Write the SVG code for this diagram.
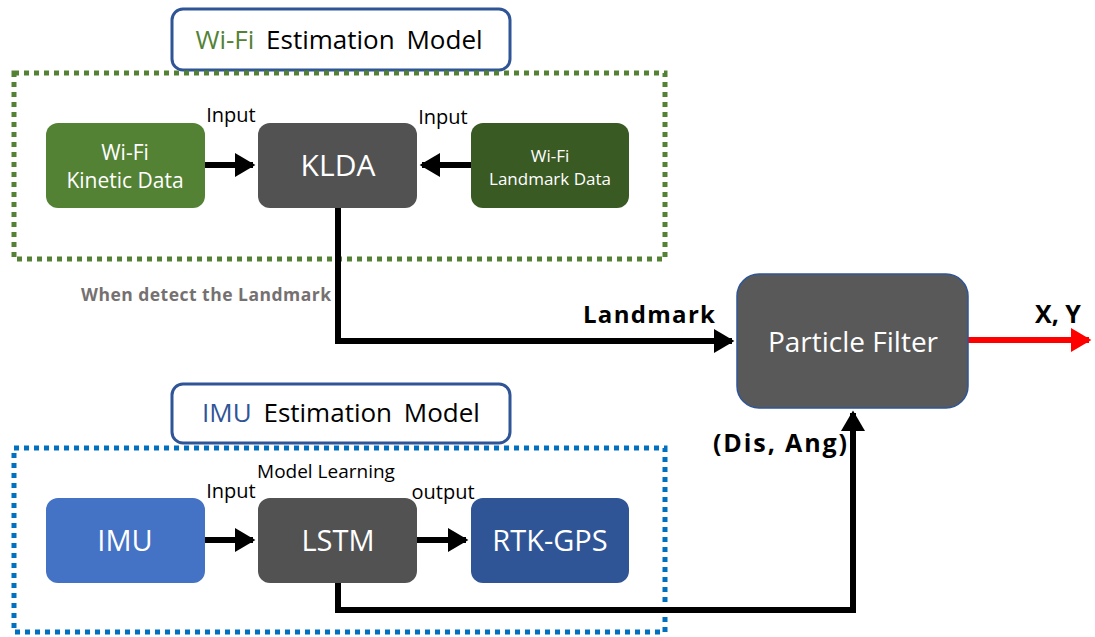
<svg xmlns="http://www.w3.org/2000/svg" width="1095" height="637" viewBox="0 0 1095 637">
<defs>
<marker id="ah" markerWidth="4" markerHeight="4.4" refX="3" refY="2.2" orient="auto" markerUnits="strokeWidth"><path d="M0,0.2 L3.4,2.2 L0,4.2 Z" fill="#000"/></marker>
<marker id="ahr" markerWidth="4" markerHeight="4.4" refX="3" refY="2.2" orient="auto" markerUnits="strokeWidth"><path d="M0,0.2 L3.4,2.2 L0,4.2 Z" fill="#ff0000"/></marker>
<style>
text{font-family:"Open Sans","Noto Sans","Liberation Sans",sans-serif}
.title{fill:#fff;stroke:#2f5597;stroke-width:3}
.node text{fill:#fff;text-anchor:middle}
.lbl{font-size:20px;fill:#000}
.bold{font-weight:bold;fill:#000}
.conn{fill:none;stroke:#000;stroke-width:6}
</style>
</defs>
<rect width="1095" height="637" fill="#fff"/>

<g id="wifi-title">
<rect class="title" x="172" y="9" width="338" height="61" rx="11"/>
<text x="339" y="49" font-size="26" text-anchor="middle" word-spacing="5"><tspan fill="#548235">Wi-Fi</tspan><tspan fill="#000"> Estimation Model</tspan></text>
</g>
<rect id="wifi-group" x="14" y="73" width="651" height="186" fill="none" stroke="#548235" stroke-width="5" stroke-dasharray="5 5"/>

<g id="imu-title">
<rect class="title" x="172" y="384" width="338" height="59" rx="11"/>
<text x="341" y="422" font-size="26" text-anchor="middle" word-spacing="5"><tspan fill="#2f5597">IMU</tspan><tspan fill="#000"> Estimation Model</tspan></text>
</g>
<rect id="imu-group" x="14" y="448" width="651" height="184" fill="none" stroke="#0070c0" stroke-width="5" stroke-dasharray="5 5"/>

<g id="connectors">
<line class="conn" x1="205" y1="165" x2="253" y2="165" marker-end="url(#ah)"/>
<line class="conn" x1="471" y1="165" x2="422" y2="165" marker-end="url(#ah)"/>
<line class="conn" x1="205" y1="540" x2="253" y2="540" marker-end="url(#ah)"/>
<line class="conn" x1="417" y1="540" x2="466" y2="540" marker-end="url(#ah)"/>
<polyline class="conn" points="338,208 338,341 732,341" marker-end="url(#ah)"/>
<polyline class="conn" points="338,583 338,610 853,610 853,413" marker-end="url(#ah)"/>
<line x1="968" y1="340" x2="1089" y2="340" stroke="#ff0000" stroke-width="6" marker-end="url(#ahr)"/>
</g>

<g id="wifi-kinetic" class="node">
<rect x="46" y="123" width="159" height="85" rx="12" fill="#548235"/>
<text x="125" y="160" font-size="21">Wi-Fi</text>
<text x="125" y="188" font-size="21">Kinetic Data</text>
</g>
<g id="klda" class="node">
<rect x="258" y="123" width="159" height="85" rx="12" fill="#525252"/>
<text x="338" y="176" font-size="30">KLDA</text>
</g>
<g id="wifi-landmark" class="node">
<rect x="471" y="123" width="158" height="85" rx="12" fill="#3a5a24"/>
<text x="550" y="162" font-size="17">Wi-Fi</text>
<text x="550" y="185" font-size="17">Landmark Data</text>
</g>
<g id="particle-filter" class="node">
<rect x="737" y="274" width="231" height="134" rx="22" fill="#595959" stroke="#2f5597" stroke-width="1.5"/>
<text x="853" y="352" font-size="28" fill="#f2f2f2">Particle Filter</text>
</g>
<g id="imu" class="node">
<rect x="46" y="498" width="159" height="85" rx="12" fill="#4472c4"/>
<text x="125" y="551" font-size="29">IMU</text>
</g>
<g id="lstm" class="node">
<rect x="258" y="498" width="159" height="85" rx="12" fill="#525252"/>
<text x="338" y="551" font-size="29">LSTM</text>
</g>
<g id="rtk-gps" class="node">
<rect x="471" y="498" width="158" height="85" rx="12" fill="#2f5597"/>
<text x="550" y="551" font-size="29">RTK-GPS</text>
</g>

<g id="labels">
<text class="lbl" x="231" y="122" text-anchor="middle">Input</text>
<text class="lbl" x="443" y="124" text-anchor="middle">Input</text>
<text x="206" y="301" font-size="17.5" font-weight="bold" fill="#767171" text-anchor="middle" textLength="250">When detect the Landmark</text>
<text class="bold" x="649" y="323" font-size="24" text-anchor="middle" textLength="132">Landmark</text>
<text class="bold" x="1058" y="323" font-size="25" text-anchor="middle">X, Y</text>
<text class="bold" x="780" y="452" font-size="25" text-anchor="middle" textLength="134">(Dis, Ang)</text>
<text x="326" y="478" font-size="19" fill="#000" text-anchor="middle">Model Learning</text>
<text class="lbl" x="231" y="498" text-anchor="middle">Input</text>
<text class="lbl" x="443" y="499" text-anchor="middle">output</text>
</g>
</svg>
